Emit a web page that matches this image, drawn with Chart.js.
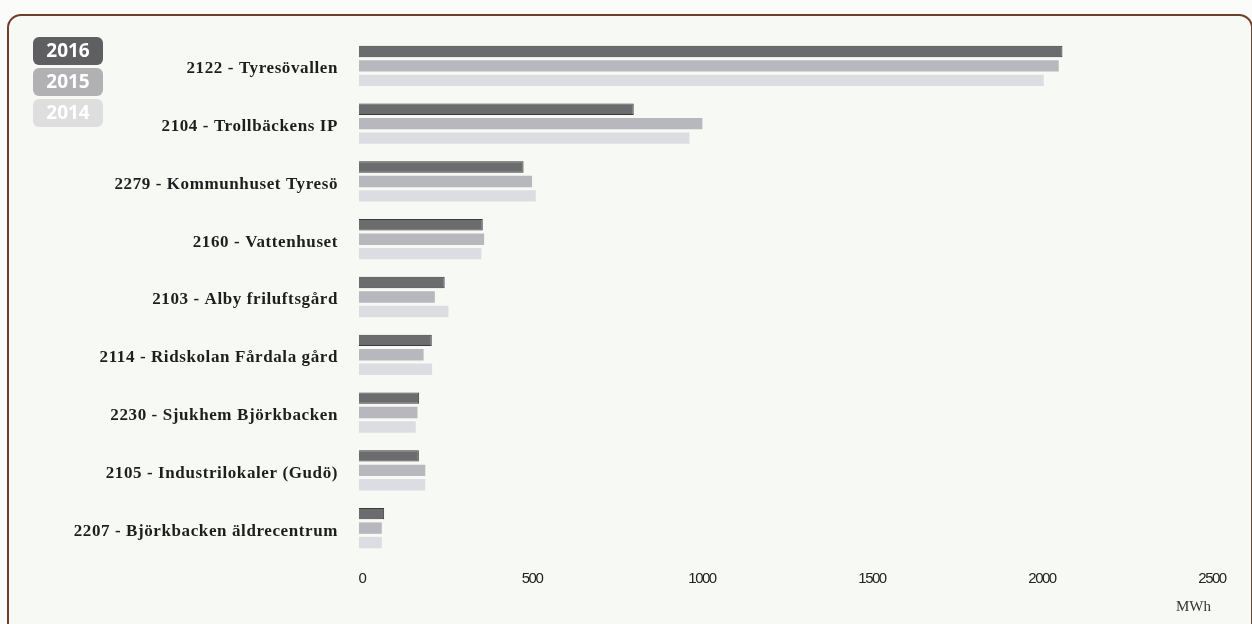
<!DOCTYPE html>
<html>
<head>
<meta charset="utf-8">
<script src="https://cdn.jsdelivr.net/npm/chart.js@4"></script>
<style>
  html, body { margin:0; padding:0; width:1252px; height:624px; overflow:hidden; background:#fbfcfa; }
  #card { position:absolute; left:7px; top:14px; width:1246px; height:660px; box-sizing:border-box;
          border:2px solid #6e3f2a; border-radius:14px; background:#f7f9f5; }
  #c { position:absolute; left:0; top:0; }
</style>
</head>
<body>
<div id="card"></div>
<canvas id="c" width="1252" height="624"></canvas>
<script>
const categories = [
  "2122 - Tyresövallen",
  "2104 - Trollbäckens IP",
  "2279 - Kommunhuset Tyresö",
  "2160 - Vattenhuset",
  "2103 - Alby friluftsgård",
  "2114 - Ridskolan Fårdala gård",
  "2230 - Sjukhem Björkbacken",
  "2105 - Industrilokaler (Gudö)",
  "2207 - Björkbacken äldrecentrum"
];
const years = ["2016", "2015", "2014"];
const values2016 = [2069, 808, 484, 364, 252, 214, 177, 176, 74];
const values2015 = [2058, 1010, 509, 368, 223, 190, 172, 195, 67];
const values2014 = [2014, 972, 520, 360, 263, 215, 167, 195, 67];
const xTicks = [0, 500, 1000, 1500, 2000, 2500];
const unitLabel = "MWh";

const barColors = ["#6c6c6f", "#b7b7bd", "#dcdde3"];
const barBorders = ["#3a3a3c", "#b0b0b6", "#d6d7dd"];
const legendColors = ["#5f5f61", "#b1b1b4", "#dededf"];

function patchLabels(scale, spacing, dx, dy) {
  if (scale._patched) return;
  scale._patched = true;
  const orig = scale.drawLabels;
  scale.drawLabels = function (area) {
    const ctx = this.ctx;
    ctx.save();
    ctx.letterSpacing = spacing;
    ctx.translate(dx, dy);
    orig.call(this, area);
    ctx.restore();
  };
}

const legendPlugin = {
  id: 'yearLegend',
  afterDraw(chart) {
    const ctx = chart.ctx;
    ctx.save();
    chart.data.datasets.forEach((ds, i) => {
      const x = 33, y = 37 + i * 31, w = 70, h = 28, r = 6;
      ctx.beginPath();
      ctx.roundRect(x, y, w, h, r);
      ctx.fillStyle = legendColors[i];
      ctx.fill();
      ctx.fillStyle = '#ffffff';
      ctx.font = 'bold 19px "Open Sans", "DejaVu Sans", sans-serif';
      ctx.textAlign = 'center';
      ctx.textBaseline = 'middle';
      ctx.fillText(ds.label, x + w / 2, y + h / 2 + 1);
    });
    const xs = chart.scales.x;
    ctx.font = '15px "Liberation Serif", serif';
    ctx.fillStyle = '#333333';
    ctx.textAlign = 'right';
    ctx.textBaseline = 'middle';
    ctx.fillText(unitLabel, xs.getPixelForValue(xTicks[xTicks.length - 1]) + 2, 607);
    ctx.restore();
  }
};

new Chart(document.getElementById('c'), {
  type: 'bar',
  data: {
    labels: categories,
    datasets: [values2016, values2015, values2014].map((v, i) => ({
      label: years[i],
      data: v,
      backgroundColor: barColors[i],
      borderColor: barBorders[i],
      borderWidth: i === 0 ? 1 : 0,
      categoryPercentage: 0.75,
      barPercentage: 0.79
    }))
  },
  options: {
    indexAxis: 'y',
    responsive: false,
    devicePixelRatio: 1,
    animation: false,
    layout: { padding: { top: 37, right: 43, bottom: 0, left: 0 } },
    plugins: { legend: { display: false }, tooltip: { enabled: false } },
    scales: {
      x: {
        min: 0, max: 2500,
        afterFit(s) { s.height = 67; patchLabels(s, '-1.5px', 3, 0); },
        afterBuildTicks(s) { s.ticks = xTicks.map(v => ({ value: v })); },
        grid: { display: false },
        border: { display: false },
        ticks: {
          padding: 5,
          color: '#222',
          callback: (v) => String(v),
          font: { family: '"Liberation Sans", sans-serif', size: 15 }
        }
      },
      y: {
        afterFit(s) { s.width = 359; patchLabels(s, '0.6px', 0, 3); },
        grid: { display: false },
        border: { display: false },
        ticks: {
          padding: 13,
          color: '#1e1e1e',
          font: { family: '"Liberation Serif", serif', size: 17, weight: 'bold' }
        }
      }
    }
  },
  plugins: [legendPlugin]
});
</script>
</body>
</html>
